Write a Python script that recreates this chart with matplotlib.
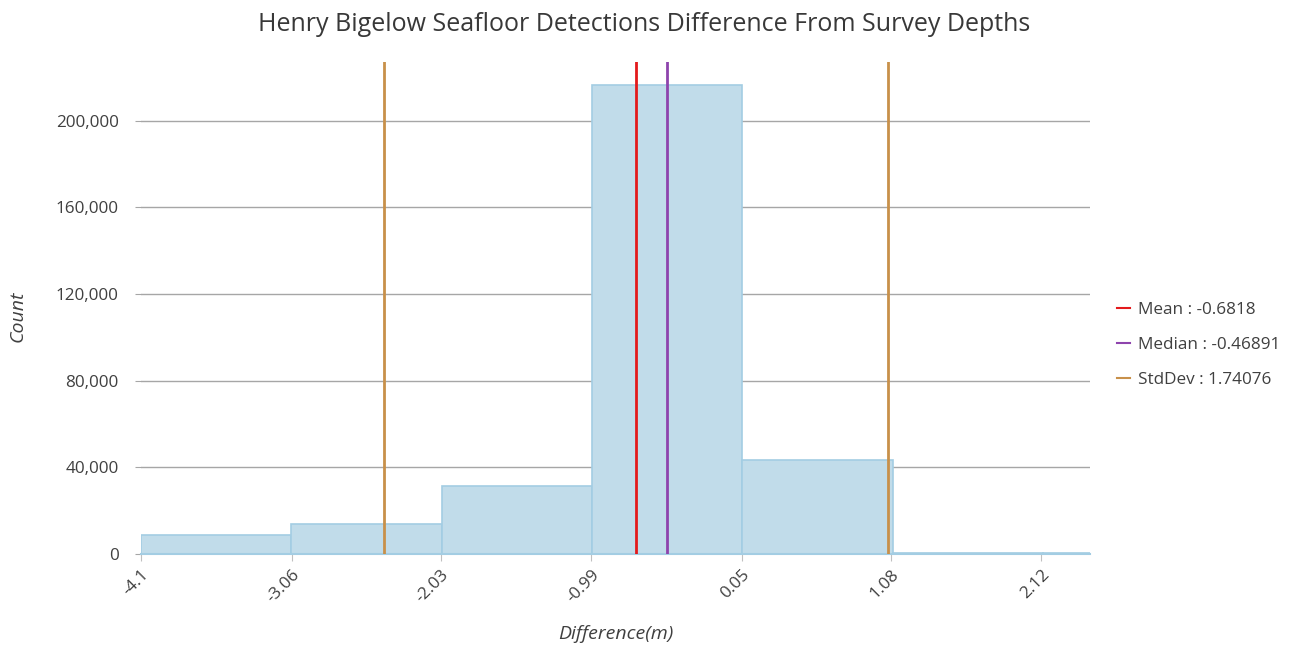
import matplotlib
matplotlib.use("Agg")
import matplotlib.pyplot as plt
from matplotlib.lines import Line2D
from matplotlib.ticker import FuncFormatter

bin_edges = [-4.1, -3.0614, -2.0229, -0.9843, 0.0543, 1.0929, 2.1314, 3.17]
counts = [8800, 13700, 31400, 216300, 43300, 300, 250]
tick_values = [-4.1, -3.06, -2.03, -0.99, 0.05, 1.08, 2.12]
tick_labels = ["-4.1", "-3.06", "-2.03", "-0.99", "0.05", "1.08", "2.12"]
mean_val = -0.6818
median_val = -0.46891
std_val = 1.74076
y_ticks = [0, 40000, 80000, 120000, 160000, 200000]

plt.rcParams['font.family'] = ['Open Sans', 'DejaVu Sans']

fig = plt.figure(figsize=(12.98, 6.46), dpi=100)
ax = fig.add_axes([0.1086, 0.1424, 0.7312, 0.7616])

text_c = '#404040'
grid_c = '#a6a6a6'

widths = [bin_edges[i + 1] - bin_edges[i] for i in range(len(counts))]
ax.bar(bin_edges[:-1], counts, width=widths, align='edge',
       color='#c1dcea', edgecolor='#a3cde3', linewidth=1.2, zorder=2)

ax.set_xlim(-4.1, 2.456)
ax.set_ylim(0, 227000)

ax.set_yticks(y_ticks)
ax.yaxis.set_major_formatter(FuncFormatter(lambda v, p: f"{int(v):,}"))
ax.grid(axis='y', color=grid_c, linewidth=1.0, zorder=1)
ax.tick_params(axis='y', length=4, color=grid_c, labelcolor=text_c, labelsize=12.3, pad=12)

ax.set_xticks(tick_values)
ax.set_xticklabels(tick_labels, rotation=45, ha='right', rotation_mode='anchor')
ax.tick_params(axis='x', length=5, color='#c0c0c0', labelcolor=text_c, labelsize=12.3, pad=4)

for s in ['top', 'right', 'left']:
    ax.spines[s].set_visible(False)
ax.spines['bottom'].set_color('#a3cde3')
ax.spines['bottom'].set_linewidth(1.5)

ax.axvline(mean_val, color='#e31a1c', linewidth=2, zorder=3)
ax.axvline(median_val, color='#8e44ad', linewidth=2, zorder=3)
ax.axvline(mean_val - std_val, color='#c8904a', linewidth=2, zorder=3)
ax.axvline(mean_val + std_val, color='#c8904a', linewidth=2, zorder=3)

handles = [
    Line2D([0], [0], color='#e31a1c', linewidth=1.5),
    Line2D([0], [0], color='#8e44ad', linewidth=1.5),
    Line2D([0], [0], color='#c8904a', linewidth=1.5),
]
labels = [f"Mean : {mean_val}", f"Median : {median_val}", f"StdDev : {std_val}"]
leg = fig.legend(handles, labels, loc='center left', bbox_to_anchor=(0.849, 0.4655),
                 frameon=False, handlelength=0.75, handletextpad=0.45,
                 labelspacing=1.12, fontsize=12.3)
for t in leg.get_texts():
    t.set_color(text_c)

fig.text(0.496, 0.962, "Henry Bigelow Seafloor Detections Difference From Survey Depths",
         ha='center', va='center', fontsize=18, color='#383838')
ax.set_xlabel("Difference(m)", style='italic', fontsize=14, color=text_c, labelpad=14)
fig.text(0.0135, 0.51, "Count", rotation=90, style='italic', fontsize=14,
         color=text_c, ha='center', va='center')

fig.savefig("out.png", dpi=100)
